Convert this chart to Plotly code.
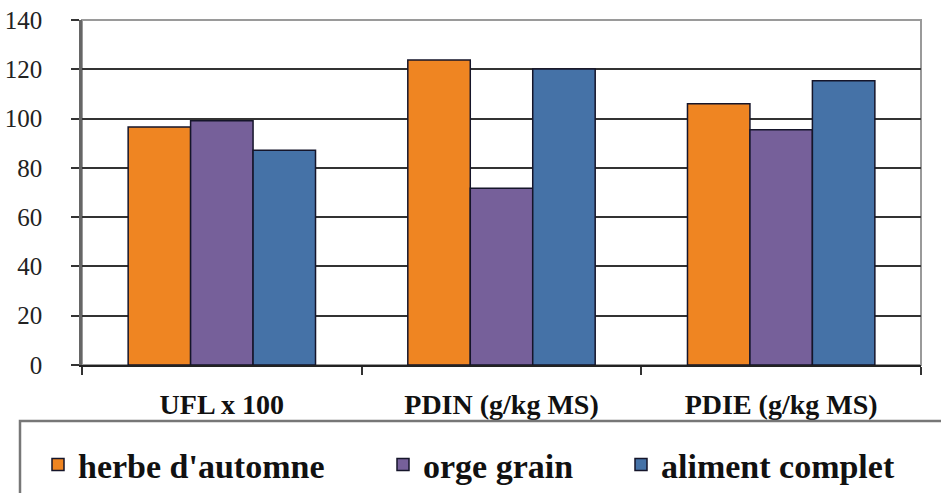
import plotly.graph_objects as go

categories = ["UFL x 100", "PDIN (g/kg MS)", "PDIE (g/kg MS)"]
series_names = ["herbe d'automne", "orge grain", "aliment complet"]
herbe = [96.6, 123.8, 106.0]
orge = [99.1, 71.7, 95.5]
aliment = [87.1, 120.1, 115.3]
colors = ["#EF8522", "#76609A", "#4572A7"]
y_ticks = [0, 20, 40, 60, 80, 100, 120, 140]

W, H = 941, 493
ML, MR, MT, MB = 82, 20, 20, 128
PW, PH = W - ML - MR, H - MT - MB
SERIF = "Liberation Serif, Times New Roman, Tinos, DejaVu Serif, serif"

fig = go.Figure()
legend_widths = [300, 193, 250]
for name, vals, col, lw in zip(series_names, [herbe, orge, aliment], colors, legend_widths):
    fig.add_trace(go.Bar(
        x=categories, y=vals, name=name,
        marker=dict(color=col, line=dict(color="#15152a", width=1.5)),
        legendwidth=lw,
    ))

fig.update_layout(
    width=W, height=H,
    margin=dict(l=ML, r=MR, t=MT, b=MB, autoexpand=False),
    paper_bgcolor="white", plot_bgcolor="white",
    barmode="group", bargap=0.33, bargroupgap=0,
    font=dict(family=SERIF, color="#111"),
    showlegend=True,
    legend=dict(
        orientation="h", xref="paper", yref="paper",
        x=(38 - ML) / PW, xanchor="left", y=((H - MB) - 436) / PH, yanchor="top",
        font=dict(family=SERIF, size=34, color="#111", weight="bold"),
        bgcolor="rgba(0,0,0,0)", borderwidth=0,
    ),
    shapes=[
        dict(type="rect", xref="paper", yref="paper", x0=0, x1=1, y0=0, y1=1,
             line=dict(color="#9a9a9a", width=2), layer="below"),
        dict(type="rect", xref="paper", yref="paper",
             x0=(20 - ML) / PW, x1=(960 - ML) / PW,
             y0=-(505 - (H - MB)) / PH, y1=-(421 - (H - MB)) / PH,
             line=dict(color="#777", width=2.5)),
    ],
)

fig.update_xaxes(
    tickson="boundaries", ticks="outside", ticklen=8, tickwidth=2, tickcolor="#333",
    showline=True, linecolor="#222", linewidth=2,
    tickfont=dict(family=SERIF, size=28, color="#111", weight="bold"),
    ticklabelstandoff=13,
)
fig.update_yaxes(
    range=[0, 140], tickvals=y_ticks, ticks="outside", ticklen=8, tickwidth=2, tickcolor="#333",
    showline=True, linecolor="#666", linewidth=2.5,
    showgrid=True, gridcolor="#333", gridwidth=1.5,
    zeroline=False,
    tickfont=dict(family=SERIF, size=25, color="#222"),
    ticklabelstandoff=24,
)

fig.write_html("out.html")
